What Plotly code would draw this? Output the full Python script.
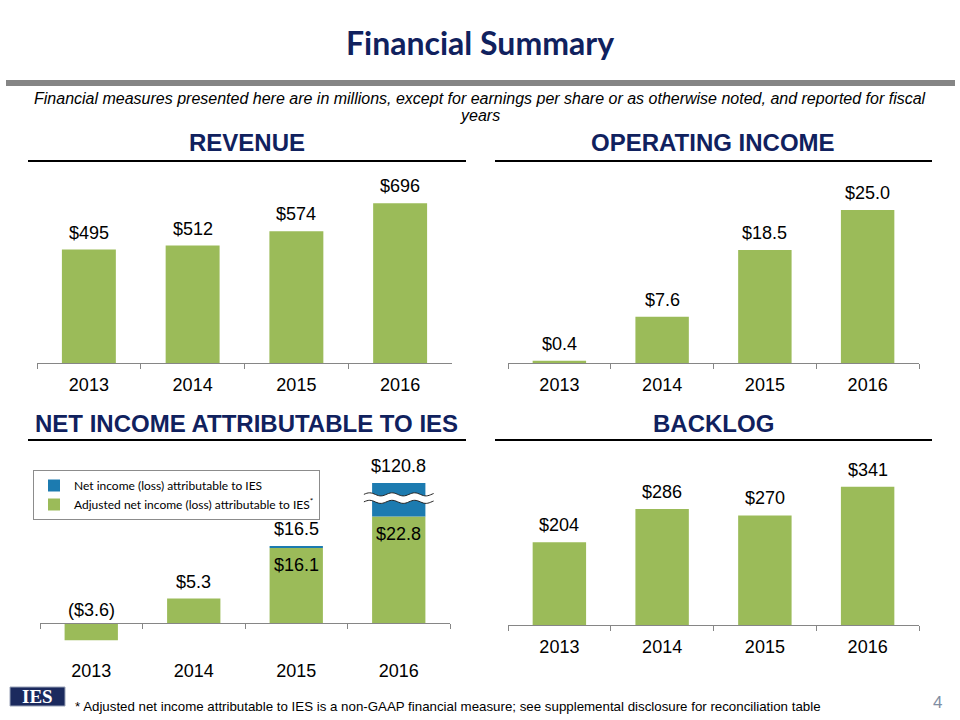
import math
import plotly.graph_objects as go

# ---------------- data ----------------
years = ["2013", "2014", "2015", "2016"]
revenue = [495, 512, 574, 696]
operating_income = [0.4, 7.6, 18.5, 25.0]
net_income = [-3.6, 5.3, 16.5, 120.8]
adjusted_net_income = [-3.6, 5.3, 16.1, 22.8]
backlog = [204, 286, 270, 341]
net_income_break_cap = 30.0  # height at which the oversized bar is drawn cut

# ---------------- style ----------------
W, H = 960, 720
def fx(px):
    return px / W
def fy(py):
    return 1 - py / H

GREEN = "#9bbb59"
BLUE = "#1c7bb0"
NAVY = "#10215e"
AXIS = "#868686"
FONT = "Liberation Sans, Arial, sans-serif"

fig = go.Figure()

bar_kw = dict(marker_line_width=0, hoverinfo="skip")
fig.add_trace(go.Bar(x=years, y=revenue, marker_color=GREEN, xaxis="x", yaxis="y",
                     showlegend=False, **bar_kw))
fig.add_trace(go.Bar(x=years, y=operating_income, marker_color=GREEN, xaxis="x2", yaxis="y2",
                     showlegend=False, **bar_kw))
fig.add_trace(go.Bar(x=years, y=adjusted_net_income, marker_color=GREEN, xaxis="x3", yaxis="y3",
                     name="Adjusted net income (loss) attributable to IES<sup>*</sup>",
                     legendrank=2, **bar_kw))
blue_height = [max(min(n, net_income_break_cap) - a, 0) for n, a in zip(net_income, adjusted_net_income)]
fig.add_trace(go.Bar(x=years, y=blue_height, base=adjusted_net_income, marker_color=BLUE,
                     xaxis="x3", yaxis="y3", name="Net income (loss) attributable to IES",
                     legendrank=1, **bar_kw))
fig.add_trace(go.Bar(x=years, y=backlog, marker_color=GREEN, xaxis="x4", yaxis="y4",
                     showlegend=False, **bar_kw))

common_x = dict(type="category", categoryorder="array", categoryarray=years,
                range=[-0.5, len(years) - 0.5], autorange=False,
                showline=True, linecolor=AXIS, linewidth=1, ticks="outside", ticklen=5,
                tickcolor=AXIS, tickwidth=1, tickson="boundaries", tickangle=0,
                tickfont=dict(family=FONT, size=18, color="black"),
                showgrid=False, zeroline=False, fixedrange=True, ticklabelstandoff=5,
                automargin=False)
hidden_y = dict(visible=False, showgrid=False, zeroline=False, fixedrange=True, automargin=False)

fig.update_layout(
    width=W, height=H, margin=dict(l=0, r=0, t=0, b=0, autoexpand=False),
    paper_bgcolor="white", plot_bgcolor="rgba(0,0,0,0)",
    barmode="overlay", bargap=0.48,
    xaxis=dict(domain=[fx(37), fx(452)], anchor="y", **common_x),
    yaxis=dict(domain=[fy(363.3), fy(170)], range=[0, (363.3 - 170) / 0.2299], anchor="x", **hidden_y),
    xaxis2=dict(domain=[fx(508), fx(919)], anchor="y2", **common_x),
    yaxis2=dict(domain=[fy(363.3), fy(170)], range=[0, (363.3 - 170) / 6.13], anchor="x2", **hidden_y),
    xaxis3=dict(domain=[fx(40), fx(450)], anchor="free", position=fy(623.3),
                **{**common_x, "ticklabelstandoff": 31}),
    yaxis3=dict(domain=[fy(660), fy(450)], range=[-(660 - 623.3) / 4.68, (623.3 - 450) / 4.68],
                anchor="x3", **hidden_y),
    xaxis4=dict(domain=[fx(508), fx(919)], anchor="y4", **common_x),
    yaxis4=dict(domain=[fy(625), fy(450)], range=[0, (625 - 450) / 0.4056], anchor="x4", **hidden_y),
    legend=dict(x=fx(33), y=fy(470), xanchor="left", yanchor="top",
                bgcolor="white", bordercolor="#8c8c8c", borderwidth=1,
                font=dict(family="Lato, Carlito, sans-serif", size=12, color="black"),
                itemwidth=30, tracegroupgap=0),
    showlegend=True,
)

annotations = []
lab_font = dict(family=FONT, size=18, color="black")

def top_labels(xref, yref, values, fmt):
    for i, v in enumerate(values):
        annotations.append(dict(x=i, y=v, xref=xref, yref=yref, text=fmt(v),
                                showarrow=False, yanchor="bottom", yshift=5, font=lab_font))

top_labels("x", "y", revenue, lambda v: f"${v:,.0f}")
top_labels("x2", "y2", operating_income, lambda v: f"${v:.1f}")
top_labels("x4", "y4", backlog, lambda v: f"${v:,.0f}")

for i, (n, a) in enumerate(zip(net_income, adjusted_net_income)):
    shown_top = max(min(n, net_income_break_cap), 0)
    txt = f"${n:.1f}" if n >= 0 else f"(${abs(n):.1f})"
    annotations.append(dict(x=i, y=shown_top, xref="x3", yref="y3", text=txt, showarrow=False,
                            yanchor="bottom", yshift=5 if n >= 0 else 1, font=lab_font))
    if abs(n - a) > 1e-9:
        annotations.append(dict(x=i, y=a, xref="x3", yref="y3", text=f"${a:.1f}", showarrow=False,
                                yanchor="top", yshift=-5, font=lab_font))

# titles and texts
annotations.append(dict(x=0.5, y=fy(42), xref="paper", yref="paper", text="<b>Financial Summary</b>",
                        showarrow=False, xanchor="center", yanchor="middle",
                        font=dict(family="Lato, sans-serif", size=32, color=NAVY, weight=900)))
annotations.append(dict(x=0.5, y=fy(99), xref="paper", yref="paper",
                        text="<i>Financial measures presented here are in millions, except for earnings per share or as otherwise noted, and reported for fiscal</i>",
                        showarrow=False, xanchor="center", yanchor="middle",
                        font=dict(family=FONT, size=16, color="black")))
annotations.append(dict(x=0.5, y=fy(116), xref="paper", yref="paper", text="<i>years</i>",
                        showarrow=False, xanchor="center", yanchor="middle",
                        font=dict(family=FONT, size=16, color="black")))

headers = [("REVENUE", 247, 143), ("OPERATING INCOME", 713, 143),
           ("NET INCOME ATTRIBUTABLE TO IES", 247, 423), ("BACKLOG", 713, 423)]
for t, cx, cy in headers:
    annotations.append(dict(x=fx(cx), y=fy(cy), xref="paper", yref="paper", text=f"<b>{t}</b>",
                            showarrow=False, xanchor="center", yanchor="middle",
                            font=dict(family=FONT, size=24, color=NAVY)))

annotations.append(dict(x=fx(73), y=fy(706), xref="paper", yref="paper",
                        text="* Adjusted net income attributable to IES is a non-GAAP financial measure; see supplemental disclosure for reconciliation table",
                        showarrow=False, xanchor="left", yanchor="middle",
                        font=dict(family=FONT, size=13.3, color="black")))
annotations.append(dict(x=fx(37.5), y=fy(696.5), xref="paper", yref="paper", text="<b>IES</b>",
                        showarrow=False, xanchor="center", yanchor="middle",
                        font=dict(family="Liberation Serif, Times New Roman, serif", size=19, color="white")))
annotations.append(dict(x=fx(937), y=fy(702), xref="paper", yref="paper", text="4",
                        showarrow=False, xanchor="center", yanchor="middle",
                        font=dict(family=FONT, size=17, color="#7f8ea3")))

shapes = []
# gray band under title
shapes.append(dict(type="rect", xref="paper", yref="paper", x0=fx(6), x1=fx(955), y0=fy(86), y1=fy(80),
                   fillcolor="#858585", line_width=0, layer="below"))
# header underlines
for x0, x1, yy in [(28, 466, 161), (495, 932, 161), (28, 466, 440), (495, 932, 440)]:
    shapes.append(dict(type="line", xref="paper", yref="paper", x0=fx(x0), x1=fx(x1), y0=fy(yy), y1=fy(yy),
                       line=dict(color="black", width=2)))
# logo box
shapes.append(dict(type="rect", xref="paper", yref="paper", x0=fx(10), x1=fx(65), y0=fy(706), y1=fy(687),
                   fillcolor="#1b2a5e", line=dict(color="#9aa3b8", width=1), layer="below"))

# axis-break marks on bars cut at the cap
half = 0.34
amp = 0.33
for i, n in enumerate(net_income):
    if n > net_income_break_cap:
        ytop = net_income_break_cap - 2.45
        ybot = net_income_break_cap - 4.05
        steps = 48
        xs = [i - half + 2 * half * k / steps for k in range(steps + 1)]
        top = [(x, ytop + amp * math.sin((x - (i - half)) / 0.22 * 2 * math.pi)) for x in xs]
        bot = [(x, ybot + amp * math.sin((x - (i - half)) / 0.22 * 2 * math.pi)) for x in xs]
        poly = "M " + " L ".join(f"{x:.4f},{y:.4f}" for x, y in top + bot[::-1]) + " Z"
        shapes.append(dict(type="path", xref="x3", yref="y3", path=poly, fillcolor="white",
                           line_width=0, layer="above"))
        for line in (top, bot):
            p = "M " + " L ".join(f"{x:.4f},{y:.4f}" for x, y in line)
            shapes.append(dict(type="path", xref="x3", yref="y3", path=p,
                               line=dict(color="#222222", width=1), layer="above"))

fig.update_layout(annotations=annotations, shapes=shapes)
fig.write_html("out.html", config={"displayModeBar": False},
               post_script="document.body.style.margin='0';document.body.style.overflow='hidden';")
